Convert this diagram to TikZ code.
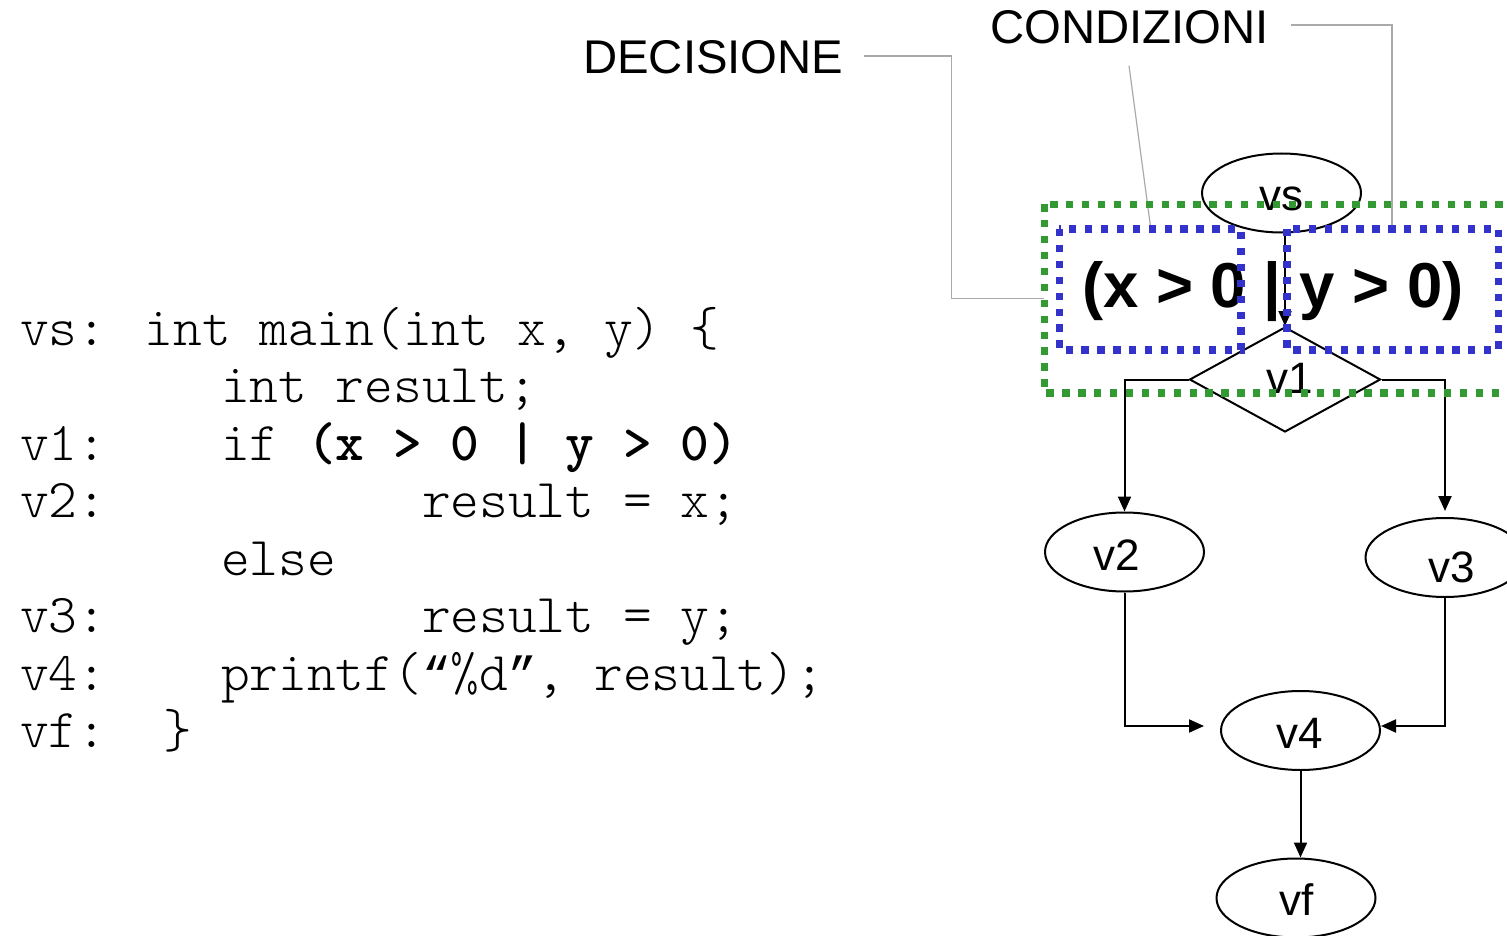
\documentclass[tikz,border=0pt]{standalone}
\usepackage{fontspec}
\setmainfont{Liberation Sans}
\newfontfamily\codefont{Latin Modern Mono Light}
\newfontfamily\quotefont{Liberation Mono}
\usetikzlibrary{arrows.meta,shapes.geometric,calc}
\definecolor{gdotc}{RGB}{51,153,51}
\definecolor{bdotc}{RGB}{51,51,204}
\definecolor{leadc}{RGB}{170,170,170}
\newcommand\cq[1]{{\quotefont\fontsize{47.8}{57.5}\selectfont #1}}
\begin{document}
\begin{tikzpicture}[x=1pt,y=-1pt,
  ell/.style={draw,ellipse,line width=2pt,minimum width=159pt,minimum height=79pt,inner sep=0pt},
  lbl/.style={font=\fontsize{44}{44}\selectfont,inner sep=0pt,anchor=base},
  arr/.style={line width=2pt,-{Triangle[length=15pt,width=13pt]}},
  lead/.style={draw=leadc,line width=1.2pt},
  title/.style={font=\fontsize{47.3}{47.3}\selectfont,inner sep=0pt,anchor=base west},
  code/.style={font=\codefont\fontsize{54.7}{57.5}\selectfont,inner sep=0pt,anchor=base west},
  gdot/.style={draw=gdotc,line width=7.3pt,dash pattern=on 7.3pt off 8.6pt},
  bdot/.style={draw=bdotc,line width=7.3pt,dash pattern=on 7.3pt off 8.6pt}
]
\useasboundingbox (0,0) rectangle (1507,936);
\clip (0,0) rectangle (1507,936);

% code listing
\def\cx#1{\fpeval{20+#1*28.7}}
\node[code] (l1) at (20,345) {vs: int main(int x, y) \{};
\node[code] (l2) at (\cx{7},402.5) {int result;};
\node[code] (l3a) at (20,460) {v1:};
\node[code] (l3b) at (\cx{7},460) {if \textbf{(x > 0 | y > 0)}};
\node[code] (l4a) at (20,517.5) {v2:};
\node[code] (l4b) at (\cx{14},517.5) {result = x;};
\node[code] (l5) at (\cx{7},575) {else};
\node[code] (l6a) at (20,632.5) {v3:};
\node[code] (l6b) at (\cx{14},632.5) {result = y;};
\node[code] (l7a) at (20,690) {v4:};
\node[code] (l7b) at (\cx{7},690) {printf(\cq{“}\%d\cq{”}, result);};
\node[code] (l8a) at (20,747.5) {vf:};
\node[code] (l8b) at (\cx{5},747.5) {\}};

% titles
\node[title] (dec) at (583,74) {DECISIONE};
\node[title] (con) at (990,44) {CONDIZIONI};

% leader lines
\coordinate (decEnd) at (864,56);
\coordinate (decBox) at (1044.3,298.7);
\coordinate (conEndA) at (1129,65.7);
\coordinate (conBoxA) at (1150.7,228);
\coordinate (conEndB) at (1291,25);
\coordinate (conBoxB) at (1392,228);
\draw[lead] (decEnd) -- (951.7,56) |- (decBox);
\draw[lead] (conEndA) -- (conBoxA);
\draw[lead] (conEndB) -| (conBoxB);

% graph nodes
\node[ell] (vs) at (1281.5,193) {};
\node[ell] (v2) at (1124.5,552) {};
\node[ell] (v3) at (1445,557.5) {};
\node[ell] (v4) at (1300.5,730.5) {};
\node[ell] (vf) at (1296,898) {};
\node[draw,diamond,line width=2pt,minimum width=191pt,minimum height=105pt,inner sep=0pt] (v1) at (1285,379.5) {};

\node[lbl] (vsT) at (1281,211) {vs};
\node[lbl] (v1T) at (1290,393) {v1};
\node[lbl] (v2T) at (1117,570) {v2};
\node[lbl] (v3T) at (1452,582) {v3};
\node[lbl] (v4T) at (1300,748) {v4};
\node[lbl] (vfT) at (1297,915) {vf};

% connectors
\draw[arr] (v1.north |- vs.south) -- (v1.north);
\draw[arr] (v1.west) -| (v2.north);
\draw[arr,shorten >=6pt] (v1.east) -| (v3.north);
\draw[arr] (v2.south) |- ($(v4.west)+(-16,-4.5)$);
\draw[arr] (v3.south) |- ($(v4.east)+(0,-4.5)$);
\draw[arr] (v4.south) -- (v4.south |- vf.north);

% condition text
\node[font=\bfseries\fontsize{63.5}{63.5}\selectfont,inner sep=0pt,anchor=base west] (cond) at (1082,307) {(x > 0 | y > 0)};

% dotted boxes
\draw[gdot] (1044.3,204.3) rectangle (1530,393);
\draw[bdot] (1059.3,229) rectangle (1241,350);
\draw[bdot] (1287,229) rectangle (1498.5,350);
\end{tikzpicture}
\end{document}
